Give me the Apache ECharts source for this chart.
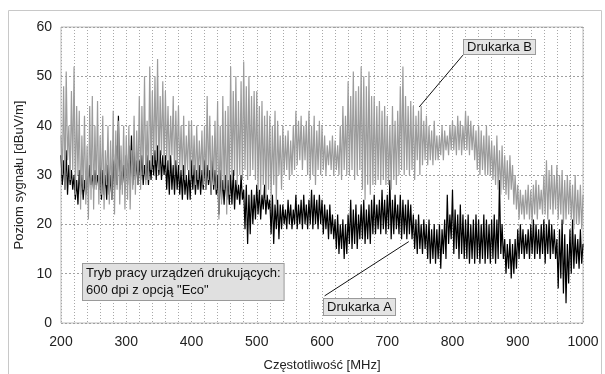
<!DOCTYPE html>
<html>
<head>
<meta charset="utf-8">
<script src="https://cdn.jsdelivr.net/npm/echarts@6/dist/echarts.min.js"></script>
<style>
  html, body { margin: 0; padding: 0; background: #fff; }
  #chart { width: 605px; height: 374px; }
</style>
</head>
<body>
<div id="chart"></div>
<script>
// Poziom sygnału co 2 MHz od 200 do 1000 MHz, jeden wiersz = 20 MHz
const printerB = [
  38, 30, 48, 27, 51, 33, 40, 29, 47, 31,
  52, 26, 44, 30, 43, 23, 38, 27, 42, 24,
  36, 21, 44, 25, 46, 23, 40, 27, 45, 24,
  38, 26, 42, 23, 35, 28, 40, 24, 37, 25,
  43, 22, 39, 27, 41, 24, 36, 26, 40, 23,
  38, 25, 40, 23, 35, 27, 42, 26, 39, 28,
  46, 27, 44, 30, 50, 28, 41, 29, 52, 31,
  47, 32, 50, 33, 53.5, 31, 46, 34, 49, 32,
  47, 33, 44, 31, 42, 34, 46, 30, 43, 32,
  44, 31, 40, 30, 42, 29, 38, 31, 41, 29,
  41, 30, 38, 28, 40, 29, 37, 30, 39, 28,
  40, 27, 46, 29, 42, 26, 38, 28, 41, 27,
  45, 21, 40, 24, 46, 27, 43, 22, 44, 26,
  52, 29, 47, 30, 50, 28, 45, 30, 49, 29,
  53, 31, 48, 29, 50, 30, 46, 31, 47, 29,
  47, 27, 44, 26, 45, 28, 42, 25, 43, 27,
  42, 25, 40, 28, 43, 24, 41, 30, 38, 27,
  40, 30, 38, 31, 39, 29, 37, 30, 40, 31,
  43, 32, 41, 33, 42, 31, 40, 33, 41, 30,
  43, 29, 40, 30, 42, 28, 39, 31, 41, 30,
  40, 31, 38, 30, 36, 32, 37, 31, 38, 30,
  37, 31, 36, 30, 40, 29, 44, 31, 42, 30,
  49, 30, 46, 31, 51, 29, 47, 30, 48, 31,
  52, 27, 50, 25, 48, 28, 51, 26, 46, 28,
  46, 28, 44, 29, 45, 28, 43, 29, 44, 28,
  42, 28, 40, 27, 44, 29, 41, 28, 43, 30,
  48, 31, 52, 30, 46, 31, 44, 30, 45, 31,
  44, 29, 42, 33, 43, 30, 44, 32, 41, 33,
  42, 32, 40, 33, 39, 32, 41, 33, 38, 33,
  38, 34, 40, 33, 39, 35, 38, 34, 40, 35,
  41, 35, 40, 34, 42, 35, 41, 34, 40, 35,
  43, 35, 42, 34, 41, 35, 40, 33, 39, 31,
  40, 30, 39, 31, 38, 30, 40, 30, 38, 30,
  37, 29, 36, 28, 38, 27, 35, 26, 36, 27,
  34, 26, 33, 25, 34, 27, 32, 24, 30, 23,
  28, 21, 27, 22, 26, 21, 27, 22, 28, 21,
  27, 20, 28, 22, 29, 21, 28, 23, 27, 22,
  30, 22, 33, 21, 31, 23, 32, 22, 30, 23,
  32, 21, 30, 22, 31, 20, 29, 21, 30, 22,
  29, 21, 28, 19, 30, 20, 27, 20, 28, 19,
  26
];
const printerA = [
  34, 28, 33, 27, 35, 26, 32, 28, 31, 27,
  30, 25, 29, 24, 31, 26, 30, 25, 29, 26,
  31, 27, 32, 28, 30, 27, 31, 28, 30, 27,
  32, 25, 31, 26, 30, 25, 32, 26, 30, 25,
  33, 27, 36, 28, 42, 27, 33, 28, 32, 27,
  34, 28, 36, 29, 38, 28, 35, 29, 33, 28,
  33, 29, 34, 28, 32, 29, 34, 28, 33, 29,
  34, 30, 35, 29, 36, 30, 35, 29, 34, 30,
  34, 27, 33, 26, 34, 27, 32, 26, 33, 27,
  32, 26, 31, 25, 32, 26, 30, 25, 31, 25,
  33, 27, 32, 26, 31, 27, 32, 26, 31, 27,
  33, 27, 32, 28, 31, 26, 33, 27, 31, 26,
  30, 22, 31, 25, 29, 24, 30, 25, 29, 24,
  30, 24, 31, 23, 29, 25, 28, 24, 30, 25,
  27, 19, 28, 16, 26, 18, 27, 20, 26, 21,
  28, 22, 27, 21, 26, 23, 28, 22, 26, 23,
  25, 18, 26, 16, 24, 19, 25, 17, 24, 19,
  24, 20, 23, 19, 25, 20, 24, 19, 23, 20,
  26, 19, 24, 20, 25, 19, 26, 20, 24, 19,
  25, 20, 27, 19, 26, 20, 25, 19, 26, 20,
  25, 18, 24, 19, 23, 17, 24, 18, 22, 17,
  21, 15, 22, 14, 20, 15, 21, 13, 20, 14,
  22, 16, 25, 15, 23, 16, 24, 15, 22, 17,
  24, 17, 25, 16, 23, 17, 24, 16, 25, 18,
  26, 18, 24, 19, 25, 18, 27, 19, 25, 18,
  26, 19, 29, 17, 25, 18, 26, 19, 24, 18,
  26, 17, 25, 18, 24, 17, 25, 18, 24, 17,
  22, 15, 21, 14, 22, 15, 20, 14, 21, 15,
  20, 13, 21, 12, 19, 13, 20, 12, 19, 13,
  20, 11, 19, 14, 21, 13, 26, 16, 22, 17,
  27, 14, 23, 15, 22, 13, 24, 14, 22, 13,
  21, 13, 22, 12, 20, 13, 21, 12, 22, 13,
  21, 12, 20, 13, 22, 12, 21, 13, 20, 12,
  21, 13, 22, 12, 21, 13, 29, 14, 20, 13,
  17, 10, 16, 11, 17, 9, 16, 10, 17, 11,
  19, 13, 20, 14, 19, 13, 18, 14, 19, 13,
  20, 14, 21, 13, 20, 14, 19, 13, 20, 14,
  21, 12, 20, 14, 21, 13, 20, 14, 19, 13,
  17, 7, 19, 9, 21, 6, 18, 4, 16, 8,
  19, 10, 21, 11, 18, 12, 17, 11, 19, 12,
  16
];
const freqMHz = printerA.map((_, i) => 200 + 2 * i);

const xTicks = [200, 300, 400, 500, 600, 700, 800, 900, 1000];
const yTicks = [0, 10, 20, 30, 40, 50, 60];

const labelB = 'Drukarka B';
const labelA = 'Drukarka A';
const noteLines = ['Tryb pracy urządzeń drukujących:', '600 dpi z opcją "Eco"'];
// strzałki opisów: [od, do] we współrzędnych danych
const arrowB = [[816, 54.3], [749, 43.8]];
const arrowA = [[604, 5.5], [733, 16.5]];

const font = '"Liberation Sans", Arial, sans-serif';
const chart = echarts.init(document.getElementById('chart'));

const pairs = (ys) => ys.map((y, i) => [freqMHz[i], y]);

chart.setOption({
  animation: false,
  textStyle: { fontFamily: font },
  grid: {
    left: 61, top: 27, right: 22, bottom: 51,
    outerBoundsMode: 'none',
    show: true, borderColor: '#bdbdbd', borderWidth: 1
  },
  xAxis: {
    type: 'value',
    min: xTicks[0], max: xTicks[xTicks.length - 1], interval: 100,
    name: 'Częstotliwość [MHz]', nameLocation: 'middle', nameGap: 36,
    nameTextStyle: { fontSize: 13, color: '#222', fontFamily: font },
    axisLine: { show: false },
    axisTick: { show: false },
    axisLabel: { fontSize: 14, color: '#222', margin: 12, fontFamily: font, formatter: (v) => String(v) },
    splitLine: { show: true, lineStyle: { color: '#a8a8a8', type: [1, 2], width: 1 } },
    minorTick: { show: false, splitNumber: 5 },
    minorSplitLine: { show: true, lineStyle: { color: '#a8a8a8', type: [1, 2], width: 1 } }
  },
  yAxis: {
    type: 'value',
    min: yTicks[0], max: yTicks[yTicks.length - 1], interval: 10,
    name: 'Poziom sygnału [dBuV/m]', nameLocation: 'middle', nameGap: 24,
    nameTextStyle: { fontSize: 13, color: '#222', fontFamily: font },
    axisLine: { show: false },
    axisTick: { show: false },
    axisLabel: { fontSize: 14, color: '#222', margin: 9, fontFamily: font },
    splitLine: { show: true, lineStyle: { color: '#a0a0a0', type: [2, 2], width: 1 } }
  },
  series: [
    {
      name: labelA, type: 'line', data: pairs(printerA),
      symbol: 'none', z: 2,
      lineStyle: { color: '#000', width: 1.2 },
      markLine: {
        silent: true, symbol: ['none', 'arrow'], symbolSize: [0, 8],
        label: { show: false },
        lineStyle: { color: '#111', type: 'solid', width: 1 },
        z: 5,
        data: [
          [{ coord: arrowB[0] }, { coord: arrowB[1] }],
          [{ coord: arrowA[0] }, { coord: arrowA[1], symbol: 'none' }]
        ]
      }
    },
    {
      name: labelB, type: 'line', data: pairs(printerB),
      symbol: 'none', z: 3,
      lineStyle: { color: '#9c9c9c', width: 1.2 }
    }
  ],
  graphic: [
    {
      type: 'rect', left: 6, top: 8, z: -10, silent: true,
      shape: { width: 593, height: 380 },
      style: { fill: 'none', stroke: '#c8c8c8', lineWidth: 1 }
    },
    {
      type: 'text', left: 463, top: 39, z: 20,
      style: {
        text: labelB, font: '13px ' + font, fill: '#111',
        backgroundColor: '#e4e4e4', borderColor: '#9a9a9a', borderWidth: 1,
        padding: [1, 3, 0, 3]
      }
    },
    {
      type: 'text', left: 323, top: 298, z: 20,
      style: {
        text: labelA, font: '13px ' + font, fill: '#111',
        backgroundColor: '#e4e4e4', borderColor: '#9a9a9a', borderWidth: 1,
        padding: [2, 3, 1, 3]
      }
    },
    {
      type: 'text', left: 82, top: 263, z: 20,
      style: {
        text: noteLines.join('\n'), font: '13px ' + font, fill: '#111',
        lineHeight: 17,
        backgroundColor: '#e0e0e0', borderColor: '#9a9a9a', borderWidth: 1,
        padding: [1, 3, 1, 3]
      }
    }
  ]
});
</script>
</body>
</html>
